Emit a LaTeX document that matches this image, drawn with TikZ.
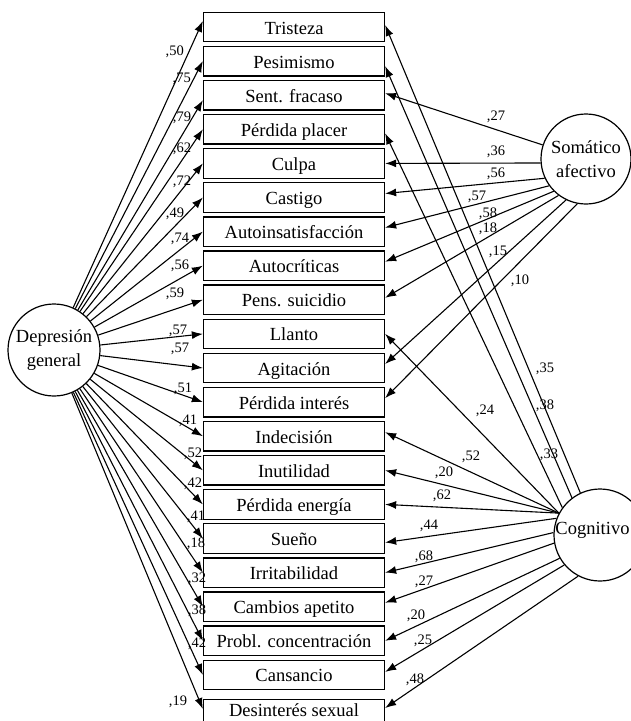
\documentclass[tikz,border=0pt]{standalone}
\usepackage{fontspec}
\setmainfont{Liberation Serif}
\usetikzlibrary{arrows.meta}
\begin{document}
\begin{tikzpicture}[x=1pt,y=-1pt,
  item/.style={draw, line width=1.3pt, minimum width=181pt, minimum height=29.5pt, inner sep=0pt,
    font=\fontsize{18.5}{22}\selectfont, text height=14pt, text depth=0pt},
  latent/.style={draw, circle, line width=1.2pt, minimum size=90pt, inner sep=0pt, align=center,
    font=\fontsize{18.5}{24}\selectfont},
  lnk/.style={line width=1.1pt, -{Latex[length=11pt,width=8pt]}},
  coef/.style={inner sep=0pt, font=\fontsize{14.5}{16}\selectfont}
]
\useasboundingbox (0,0) rectangle (631,721);

% indicator boxes
\node[item] (b0) at (294,27) {Tristeza};
\node[item] (b1) at (294,61.1) {Pesimismo};
\node[item] (b2) at (294,95.2) {Sent. fracaso};
\node[item] (b3) at (294,129.3) {Pérdida placer};
\node[item] (b4) at (294,163.4) {Culpa};
\node[item] (b5) at (294,197.5) {Castigo};
\node[item] (b6) at (294,231.6) {Autoinsatisfacción};
\node[item] (b7) at (294,265.7) {Autocríticas};
\node[item] (b8) at (294,299.8) {Pens. suicidio};
\node[item] (b9) at (294,333.9) {Llanto};
\node[item] (b10) at (294,368) {Agitación};
\node[item] (b11) at (294,402.1) {Pérdida interés};
\node[item] (b12) at (294,436.2) {Indecisión};
\node[item] (b13) at (294,470.3) {Inutilidad};
\node[item] (b14) at (294,504.4) {Pérdida energía};
\node[item] (b15) at (294,538.5) {Sueño};
\node[item] (b16) at (294,572.6) {Irritabilidad};
\node[item] (b17) at (294,606.7) {Cambios apetito};
\node[item] (b18) at (294,640.8) {Probl. concentración};
\node[item] (b19) at (294,674.9) {Cansancio};
\node[item, text height=5pt] (b20) at (294,714) {Desinterés sexual};

% latent factors
\node[latent, minimum size=92pt] (dep) at (54,350) {Depresión\\general};
\node[latent] (som) at (586,159) {Somático\\afectivo};
\node[latent, minimum size=92pt] (cog) at (600,535) {};
\node[inner sep=0pt, font=\fontsize{18.5}{22}\selectfont] (cogt) at (592.5,530) {Cognitivo};

% general factor loadings
\draw[lnk] (dep) -- ([yshift=6pt]b0.west);
\draw[lnk] (dep) -- (b1.west);
\draw[lnk] (dep) -- ([yshift=-5pt]b2.west);
\draw[lnk] (dep) -- (b3.west);
\draw[lnk] (dep) -- (b4.west);
\draw[lnk] (dep) -- (b5.west);
\draw[lnk] (dep) -- (b6.west);
\draw[lnk] (dep) -- (b7.west);
\draw[lnk] (dep) -- (b8.west);
\draw[lnk] (dep) -- (b9.west);
\draw[lnk] (dep) -- (b10.west);
\draw[lnk] (dep) -- (b11.west);
\draw[lnk] (dep) -- (b12.west);
\draw[lnk] (dep) -- (b13.west);
\draw[lnk] (dep) -- (b14.west);
\draw[lnk] (dep) -- (b15.west);
\draw[lnk] (dep) -- (b16.west);
\draw[lnk] (dep) -- (b17.west);
\draw[lnk] (dep) -- (b18.west);
\draw[lnk] (dep) -- (b19.west);
\draw[lnk] (dep) -- ([yshift=5pt]b20.west);

% somatic-affective loadings
\draw[lnk] (som.162) -- ([yshift=2pt]b2.east);
\draw[lnk] (som.185) -- (b4.east);
\draw[lnk] (som.205) -- ([yshift=4pt]b5.east);
\draw[lnk] (som.216) -- ([yshift=4pt]b6.east);
\draw[lnk] (som.225) -- ([yshift=4pt]b7.east);
\draw[lnk] (som.233) -- ([yshift=2pt]b8.east);
\draw[lnk] (som.244) -- ([yshift=4pt]b10.east);
\draw[lnk] (som.259) -- ([yshift=4pt]b11.east);

% cognitive loadings
\draw[lnk] (cog.115) -- ([yshift=2pt]b0.east);
\draw[lnk] (cog.127) -- ([yshift=-5pt]b1.east);
\draw[lnk] (cog.144) -- ([yshift=-4pt]b3.east);
\draw[lnk] (cog.152) -- (b9.east);
\draw[lnk] (cog.152) -- ([yshift=4pt]b12.east);
\draw[lnk] (cog.152) -- (b13.east);
\draw[lnk] (cog.152) -- (b14.east);
\draw[lnk] (cog.159) -- ([yshift=-4pt]b15.east);
\draw[lnk] (cog.177) -- (b16.east);
\draw[lnk] (cog.190) -- ([yshift=4pt]b17.east);
\draw[lnk] (cog.210) -- (b18.east);
\draw[lnk] (cog.220) -- ([yshift=3pt]b19.east);
\draw[lnk] (cog.242) -- ([yshift=6pt]b20.east);

% coefficient labels: general
\node[coef] (g0) at (174.7,51.7) {,50};
\node[coef] (g1) at (181.7,79) {,75};
\node[coef] (g2) at (182,118) {,79};
\node[coef] (g3) at (182,149) {,62};
\node[coef] (g4) at (182,182) {,72};
\node[coef] (g5) at (175,214) {,49};
\node[coef] (g6) at (180,239) {,74};
\node[coef] (g7) at (180,266) {,56};
\node[coef] (g8) at (175,294) {,59};
\node[coef] (g9) at (178,331) {,57};
\node[coef] (g10) at (180,349) {,57};
\node[coef] (g11) at (183,389) {,51};
\node[coef] (g12) at (188,421) {,41};
\node[coef] (g13) at (193,454) {,52};
\node[coef] (g14) at (193,484) {,42};
\node[coef] (g15) at (196,517) {,41};
\node[coef] (g16) at (196,544) {,18};
\node[coef] (g17) at (197,579) {,32};
\node[coef] (g18) at (197,611) {,38};
\node[coef] (g19) at (197,644) {,42};
\node[coef] (g20) at (178,702) {,19};

% coefficient labels: somatic-affective
\node[coef] (s0) at (496,117) {,27};
\node[coef] (s1) at (496,152) {,36};
\node[coef] (s2) at (496,174) {,56};
\node[coef] (s3) at (477,197) {,57};
\node[coef] (s4) at (488,214) {,58};
\node[coef] (s5) at (488,229) {,18};
\node[coef] (s6) at (498,252) {,15};
\node[coef] (s7) at (520,281) {,10};

% coefficient labels: cognitive
\node[coef] (c0) at (545,369) {,35};
\node[coef] (c1) at (545,406) {,38};
\node[coef] (c2) at (549,455) {,33};
\node[coef] (c3) at (485,411) {,24};
\node[coef] (c4) at (471,457) {,52};
\node[coef] (c5) at (444,473) {,20};
\node[coef] (c6) at (442,496) {,62};
\node[coef] (c7) at (429,526) {,44};
\node[coef] (c8) at (424,557) {,68};
\node[coef] (c9) at (424,582) {,27};
\node[coef] (c10) at (416,616) {,20};
\node[coef] (c11) at (423,641) {,25};
\node[coef] (c12) at (415,680) {,48};
\end{tikzpicture}
\end{document}
